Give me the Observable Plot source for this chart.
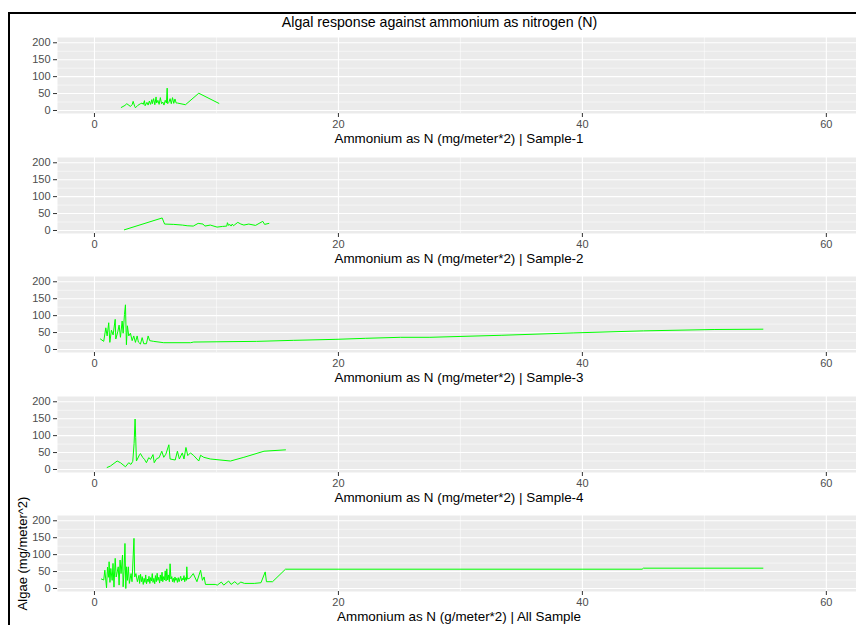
<!DOCTYPE html>
<html>
<head>
<meta charset="utf-8">
<script src="https://cdn.jsdelivr.net/npm/d3@7"></script>
<script src="https://cdn.jsdelivr.net/npm/@observablehq/plot@0.6"></script>
<style>
html, body { margin: 0; padding: 0; background: #fff; }
body { width: 856px; height: 625px; overflow: hidden; position: relative; font-family: "Liberation Sans", Arial, sans-serif; }
#frame { position: absolute; left: 8px; top: 12px; width: 900px; height: 700px; border-left: 2px solid #000; border-top: 2px solid #000; }
#title { position: absolute; top: 14px; left: 0; width: 879px; text-align: center; font-size: 14.2px; line-height: 16px; color: #000; }
.panel { position: absolute; left: 0; width: 870px; }
.panel svg { max-width: none !important; }
</style>
</head>
<body>
<div id="frame"></div>
<div id="title">Algal response against ammonium as nitrogen (N)</div>
<div id="panels"></div>
<script>
// ---- data ----
const chartTitle = "Algal response against ammonium as nitrogen (N)";
const xTicks = [0, 20, 40, 60];
const xMinor = [10, 30, 50];
const yTicks = [0, 50, 100, 150, 200];
const yMinor = [25, 75, 125, 175];
const yLabel = "Algae (mg/meter^2)";
const xLabels = [
  "Ammonium as N (mg/meter*2) | Sample-1",
  "Ammonium as N (mg/meter*2) | Sample-2",
  "Ammonium as N (mg/meter*2) | Sample-3",
  "Ammonium as N (mg/meter*2) | Sample-4",
  "Ammonium as N (g/meter*2) | All Sample"
];

const sample1 = [[2.2,9],[2.5,15],[2.65,20],[2.95,12],[3.1,18],[3.17,27],[3.3,12],[3.36,8],[3.55,15],[3.77,20],[3.9,22],[4.0,18],[4.1,29],[4.15,14],[4.3,24],[4.4,16],[4.5,28],[4.6,18],[4.7,32],[4.75,20],[4.85,35],[4.95,17],[5.05,40],[5.1,22],[5.2,30],[5.3,18],[5.4,38],[5.5,20],[5.6,25],[5.7,16],[5.8,30],[5.9,22],[5.96,66],[6.0,20],[6.1,24],[6.2,35],[6.3,20],[6.4,38],[6.5,21],[6.6,34],[6.7,22],[6.8,22],[7.46,17],[8.55,51],[10.2,21]];

const sample2 = [[2.45,2],[5.55,37],[5.75,19],[6.5,18],[7.2,16],[7.6,14],[8.1,13],[8.5,21],[8.9,19],[9.05,13],[9.5,16],[10.05,10],[10.5,12],[10.85,13],[10.9,23],[11.0,15],[11.1,18],[11.2,13],[11.3,19],[11.4,14],[11.5,17],[11.75,24],[12.0,19],[12.25,16],[12.65,19],[13.2,15],[13.8,27],[13.95,18],[14.3,21]];

const sample3 = [[0.49,31],[0.76,24],[0.93,64],[1.04,40],[1.17,79],[1.26,21],[1.39,57],[1.53,43],[1.7,89],[1.75,31],[1.91,52],[2.02,72],[2.13,36],[2.27,84],[2.35,48],[2.46,103],[2.54,132],[2.62,14],[2.7,70],[2.81,40],[2.95,48],[3.09,26],[3.22,40],[3.36,21],[3.5,40],[3.6,22],[3.77,16],[3.91,35],[4.04,17],[4.26,17],[4.4,40],[4.53,26],[4.86,24],[5.68,20],[7.87,20],[8.14,22],[13.3,24],[16.3,27],[19.8,30],[22.2,33],[25.1,36],[27.5,36],[33.4,42],[39.3,49],[45,55],[50.8,59],[54.8,60]];

const sample4 = [[1.04,6],[1.3,10],[1.86,25],[2.13,20],[2.54,8],[2.81,20],[2.99,15],[3.14,24],[3.25,77],[3.33,149],[3.38,95],[3.44,25],[3.7,44],[3.77,47],[3.97,35],[4.1,30],[4.26,20],[4.45,35],[4.6,30],[4.8,44],[4.9,20],[5.1,32],[5.3,35],[5.52,54],[5.68,36],[5.85,45],[6.1,73],[6.2,31],[6.62,28],[6.8,54],[6.96,31],[7.2,49],[7.34,31],[7.5,65],[7.65,41],[7.87,49],[8.14,41],[8.55,25],[8.7,42],[8.96,36],[9.5,31],[11.15,25],[12.25,36],[13.9,54],[15.66,58]];

const sampleAll = [[0.57,28],[0.76,25],[0.85,54],[0.99,2],[1.07,63],[1.17,33],[1.2,79],[1.27,18],[1.34,59],[1.45,24],[1.52,74],[1.6,4],[1.7,89],[1.78,34],[1.95,64],[2.02,10],[2.1,84],[2.18,44],[2.3,99],[2.35,5],[2.43,54],[2.5,133],[2.57,0],[2.63,64],[2.7,24],[2.78,64],[2.86,15],[3.0,44],[3.08,20],[3.24,148],[3.3,34],[3.4,44],[3.52,20],[3.65,39],[3.7,15],[3.78,42],[3.85,20],[3.92,35],[4.0,12],[4.07,30],[4.14,18],[4.2,40],[4.27,14],[4.34,28],[4.4,20],[4.47,36],[4.54,15],[4.6,32],[4.67,22],[4.74,44],[4.8,18],[4.87,30],[4.94,14],[5.0,38],[5.07,20],[5.14,45],[5.2,24],[5.27,33],[5.34,16],[5.4,40],[5.47,22],[5.54,48],[5.6,20],[5.67,35],[5.74,25],[5.8,52],[5.87,22],[5.93,58],[6.0,25],[6.07,40],[6.14,20],[6.2,73],[6.27,28],[6.34,35],[6.4,20],[6.47,30],[6.54,18],[6.6,34],[6.67,24],[6.74,30],[6.8,18],[6.87,32],[6.94,20],[7.0,28],[7.07,36],[7.14,22],[7.2,30],[7.27,25],[7.34,38],[7.4,20],[7.47,32],[7.54,24],[7.57,64],[7.62,28],[7.8,30],[8.1,44],[8.4,20],[8.7,54],[8.85,24],[8.99,34],[9.1,12],[9.9,12],[10.07,10],[10.4,19],[10.6,10],[11.0,22],[11.2,12],[11.5,20],[11.75,12],[12.0,19],[12.3,15],[13.1,15],[13.65,17],[14.0,49],[14.1,20],[14.6,20],[15.66,57],[44.9,57],[45.0,60],[54.8,60]];

const panelData = [sample1, sample2, sample3, sample4, sampleAll];
const panelTops = [37, 156.5, 276, 395.5, 515];

// ---- drawing ----
const font = '"Liberation Sans", Arial, sans-serif';
const mt = 4, mb = 40, ph = 76;
const container = document.getElementById("panels");
panelData.forEach((data, i) => {
  const marks = [
    Plot.frame({fill: "#EBEBEB", stroke: "none"}),
    Plot.ruleY(yMinor, {stroke: "#fff", strokeWidth: 0.55}),
    Plot.ruleX(xMinor, {stroke: "#fff", strokeWidth: 0.55}),
    Plot.ruleY(yTicks, {stroke: "#fff", strokeWidth: 1.1}),
    Plot.ruleX(xTicks, {stroke: "#fff", strokeWidth: 1.1}),
    Plot.line(data, {x: d => d[0], y: d => d[1], stroke: "#00FF00", strokeWidth: 1}),
    Plot.axisX(xTicks, {tickSize: 4, tickPadding: 3, fontSize: 11, stroke: "#333333", fill: "#4D4D4D", label: null}),
    Plot.axisY(yTicks, {tickSize: 4, tickPadding: 3, fontSize: 11, stroke: "#333333", fill: "#4D4D4D", label: null}),
    Plot.text([xLabels[i]], {text: d => d, frameAnchor: "bottom", dy: 25, textAnchor: "middle", lineAnchor: "middle", fontSize: 13.4, fill: "#000"})
  ];
  if (i === panelData.length - 1) {
    marks.push(Plot.text([yLabel], {text: d => d, frameAnchor: "left", dx: -35, rotate: -90, textAnchor: "middle", lineAnchor: "middle", fontSize: 13, fill: "#000"}));
  }
  const chart = Plot.plot({
    width: 870,
    height: mt + ph + mb,
    marginLeft: 57,
    marginRight: 10,
    marginTop: mt,
    marginBottom: mb,
    x: {domain: [-3.03, 62.8]},
    y: {domain: [-8.9, 215.6]},
    style: {fontFamily: font, background: "transparent", overflow: "visible", maxWidth: "none"},
    marks
  });
  const div = document.createElement("div");
  div.className = "panel";
  div.style.top = (panelTops[i] - mt) + "px";
  div.appendChild(chart);
  container.appendChild(div);
});
</script>
</body>
</html>
